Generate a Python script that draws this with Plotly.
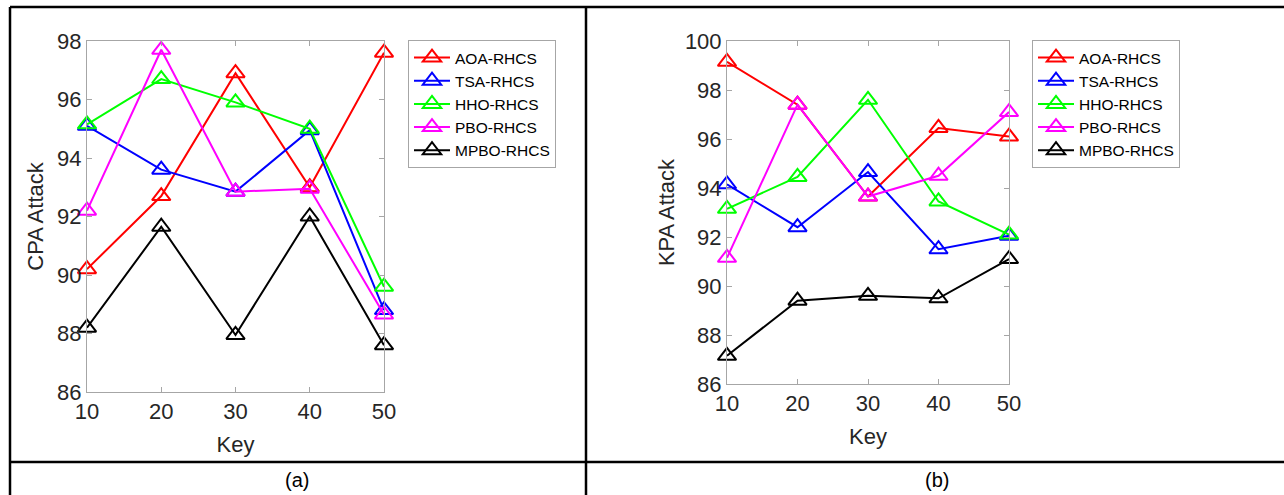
import plotly.graph_objects as go

keys = [10, 20, 30, 40, 50]
series_names = ["AOA-RHCS", "TSA-RHCS", "HHO-RHCS", "PBO-RHCS", "MPBO-RHCS"]
colors = ["#ff0000", "#0000ff", "#00ff00", "#ff00ff", "#000000"]

cpa_aoa = [90.2, 92.7, 96.9, 93.0, 97.6]
cpa_tsa = [95.1, 93.6, 92.85, 94.95, 88.8]
cpa_hho = [95.15, 96.7, 95.9, 95.0, 89.6]
cpa_pbo = [92.2, 97.7, 92.85, 92.95, 88.65]
cpa_mpbo = [88.2, 91.65, 87.95, 92.0, 87.6]

kpa_aoa = [99.15, 97.4, 93.65, 96.45, 96.1]
kpa_tsa = [94.15, 92.4, 94.65, 91.5, 92.05]
kpa_hho = [93.15, 94.45, 97.6, 93.45, 92.1]
kpa_pbo = [91.15, 97.4, 93.65, 94.5, 97.1]
kpa_mpbo = [87.15, 89.4, 89.6, 89.5, 91.1]

cpa_ticks = [86, 88, 90, 92, 94, 96, 98]
kpa_ticks = [86, 88, 90, 92, 94, 96, 98, 100]

panel_labels = ["(a)", "(b)"]

W, H = 1284, 495
FONT = "Arial, Liberation Sans, sans-serif"

fig = go.Figure()

cpa = [cpa_aoa, cpa_tsa, cpa_hho, cpa_pbo, cpa_mpbo]
kpa = [kpa_aoa, kpa_tsa, kpa_hho, kpa_pbo, kpa_mpbo]

for name, col, vals in zip(series_names, colors, cpa):
    fig.add_trace(go.Scatter(
        x=keys, y=vals, name=name, mode="lines+markers",
        line=dict(color=col, width=2),
        marker=dict(symbol="triangle-up-open", size=16, color=col, line=dict(width=2, color=col)),
        xaxis="x", yaxis="y", legend="legend", cliponaxis=False,
    ))
for name, col, vals in zip(series_names, colors, kpa):
    fig.add_trace(go.Scatter(
        x=keys, y=vals, name=name, mode="lines+markers",
        line=dict(color=col, width=2),
        marker=dict(symbol="triangle-up-open", size=16, color=col, line=dict(width=2, color=col)),
        xaxis="x2", yaxis="y2", legend="legend2", cliponaxis=False,
    ))

axis_common = dict(
    showline=True, linecolor="#a6a6a6", linewidth=1, mirror="ticks",
    ticks="inside", ticklen=5, tickcolor="#a6a6a6", showgrid=False, zeroline=False,
    automargin=False,
    tickfont=dict(family=FONT, size=22, color="#262626"),
)

def px_x(p):
    return p / W

def px_y(p):
    return 1 - p / H

title_font = dict(family=FONT, size=22, color="#262626")
legend_common = dict(xanchor="left", yanchor="top", bgcolor="white",
                     bordercolor="#a6a6a6", borderwidth=1, itemwidth=36,
                     font=dict(family=FONT, size=15.5, color="black"), tracegroupgap=0)

fig.update_layout(
    width=W, height=H,
    margin=dict(l=0, r=0, t=0, b=0, autoexpand=False),
    paper_bgcolor="white", plot_bgcolor="white",
    showlegend=True,
    xaxis=dict(domain=[px_x(87), px_x(384)], range=[10, 50], tickvals=keys,
               title=dict(text="Key", font=title_font, standoff=13),
               anchor="y", **axis_common),
    yaxis=dict(domain=[px_y(392), px_y(41)], range=[86, 98], tickvals=cpa_ticks,
               title=dict(text="CPA Attack", font=title_font, standoff=7),
               anchor="x", **axis_common),
    xaxis2=dict(domain=[px_x(727), px_x(1009)], range=[10, 50], tickvals=keys,
                title=dict(text="Key", font=title_font, standoff=13),
                anchor="y2", **axis_common),
    yaxis2=dict(domain=[px_y(384), px_y(41)], range=[86, 100], tickvals=kpa_ticks,
                title=dict(text="KPA Attack", font=title_font, standoff=4),
                anchor="x2", **axis_common),
    legend=dict(x=px_x(408), y=px_y(40), **legend_common),
    legend2=dict(x=px_x(1032), y=px_y(40), **legend_common),
)

# table frame lines
line_style = dict(color="black", width=2.5)
fig.add_shape(type="line", xref="paper", yref="paper", x0=px_x(10), x1=1, y0=px_y(7), y1=px_y(7), line=line_style)
fig.add_shape(type="line", xref="paper", yref="paper", x0=px_x(10), x1=1, y0=px_y(462), y1=px_y(462), line=line_style)
fig.add_shape(type="line", xref="paper", yref="paper", x0=px_x(10), x1=px_x(10), y0=0, y1=px_y(7), line=line_style)
fig.add_shape(type="line", xref="paper", yref="paper", x0=px_x(586), x1=px_x(586), y0=0, y1=px_y(7), line=line_style)

for lbl, cx in zip(panel_labels, [297, 937]):
    fig.add_annotation(text=lbl, xref="paper", yref="paper", x=px_x(cx), y=px_y(480),
                       showarrow=False, xanchor="center", yanchor="middle",
                       font=dict(family=FONT, size=20, color="black"))

fig.write_html("out.html", config={"displayModeBar": False},
               post_script="document.body.style.margin='0';document.body.style.padding='0';")
